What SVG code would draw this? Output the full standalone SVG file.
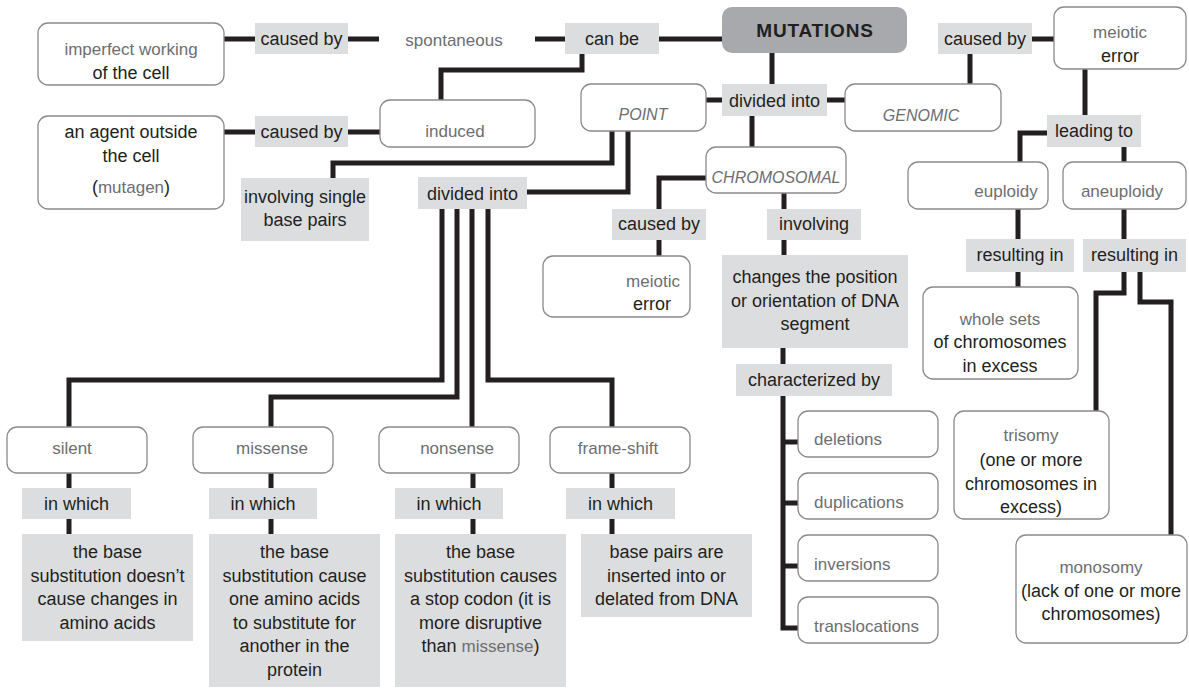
<svg xmlns="http://www.w3.org/2000/svg" width="1189" height="688" viewBox="0 0 1189 688">
<style>
.box{fill:#ffffff;stroke:#8a8a8c;stroke-width:1.3}
.lbl{fill:#dcddde}
.mut{fill:#a7a9ac}
.d{font-family:"Liberation Sans",Arial,sans-serif;font-size:18px;fill:#231f20;text-anchor:middle}
.l{font-family:"Liberation Sans",Arial,sans-serif;font-size:17px;fill:#6d6e71;text-anchor:middle}
.i{font-style:italic;font-size:16px}
.s{text-anchor:start}
.b{font-family:"Liberation Sans",Arial,sans-serif;font-size:19px;font-weight:bold;fill:#231f20;text-anchor:middle;letter-spacing:0.8px}
.g{fill:#6d6e71;font-size:17px}
#connectors path{fill:none;stroke:#231f20;stroke-width:5;stroke-linejoin:miter;stroke-linecap:butt}
</style>
<rect width="1189" height="688" fill="#ffffff"/>
<g id="connectors">
<path d="M224,39H255"/>
<path d="M348,39H379"/>
<path d="M535,39H565"/>
<path d="M659,39H722"/>
<path d="M582,54V70H441V100"/>
<path d="M224,132H255"/>
<path d="M348,132H380"/>
<path d="M772,53V84"/>
<path d="M706,100H722"/>
<path d="M827,100H845"/>
<path d="M752,116V147"/>
<path d="M612,131V163H333V178"/>
<path d="M628,131V192H527"/>
<path d="M442,209V380H69V427"/>
<path d="M457,209V397H271V427"/>
<path d="M472,209V427"/>
<path d="M488,209V380H612V427"/>
<path d="M706,178H659V209"/>
<path d="M659,240V256"/>
<path d="M784,193V209"/>
<path d="M784,240V255"/>
<path d="M783,348V364"/>
<path d="M783,396V628H798"/>
<path d="M783,442H798"/>
<path d="M783,503H798"/>
<path d="M783,566H798"/>
<path d="M1032,39H1054"/>
<path d="M970,54V84"/>
<path d="M1085,69V115"/>
<path d="M1047,133H1020V162"/>
<path d="M1124,147V162"/>
<path d="M1018,209V239"/>
<path d="M1018,272V287"/>
<path d="M1124,209V239"/>
<path d="M1124,272V293H1096V411"/>
<path d="M1140,272V302H1171V535"/>
<path d="M69,473V488"/><path d="M69,519V534"/>
<path d="M271,473V488"/><path d="M271,519V534"/>
<path d="M473,473V488"/><path d="M473,519V534"/>
<path d="M612,473V488"/><path d="M612,519V534"/>
</g>

<g id="n-imperfect"><rect class="box" x="38" y="23" width="186" height="62" rx="10"/>
<text class="l" x="131" y="55">imperfect working</text><text class="d" x="131" y="79">of the cell</text></g>
<g id="n-caused1"><rect class="lbl" x="255" y="23" width="93" height="31"/><text class="d" x="301.5" y="45">caused by</text></g>
<g id="n-spontaneous"><text class="l" x="454" y="46">spontaneous</text></g>
<g id="n-canbe"><rect class="lbl" x="565" y="23" width="94" height="31"/><text class="d" x="612" y="45">can be</text></g>
<g id="n-mutations"><rect class="mut" x="722" y="7" width="185" height="46" rx="10"/><text class="b" x="815" y="37">MUTATIONS</text></g>
<g id="n-caused-right"><rect class="lbl" x="938" y="23" width="94" height="31"/><text class="d" x="985" y="45">caused by</text></g>
<g id="n-meiotic1"><rect class="box" x="1054" y="7" width="132" height="62" rx="10"/>
<text class="l" x="1120" y="38">meiotic</text><text class="d" x="1120" y="62">error</text></g>

<g id="n-agent"><rect class="box" x="38" y="116" width="186" height="93" rx="10"/>
<text class="d" x="131" y="138">an agent outside</text><text class="d" x="131" y="162">the cell</text>
<text class="d" x="131" y="193">(<tspan class="g">mutagen</tspan>)</text></g>
<g id="n-caused2"><rect class="lbl" x="255" y="116" width="93" height="31"/><text class="d" x="301.5" y="138">caused by</text></g>
<g id="n-induced"><rect class="box" x="380" y="100" width="155" height="47" rx="10"/><text class="l" x="455" y="137">induced</text></g>
<g id="n-point"><rect class="box" x="581" y="84" width="125" height="47" rx="10"/><text class="l i" x="643" y="120">POINT</text></g>
<g id="n-divided1"><rect class="lbl" x="722" y="84" width="105" height="32"/><text class="d" x="774.5" y="107">divided into</text></g>
<g id="n-genomic"><rect class="box" x="845" y="84" width="156" height="47" rx="10"/><text class="l i" x="921" y="121">GENOMIC</text></g>
<g id="n-chromosomal"><rect class="box" x="706" y="147" width="140" height="46" rx="10"/><text class="l i" x="776" y="183">CHROMOSOMAL</text></g>
<g id="n-leading"><rect class="lbl" x="1047" y="115" width="94" height="32"/><text class="d" x="1094" y="137">leading to</text></g>
<g id="n-euploidy"><rect class="box" x="908" y="162" width="140" height="47" rx="10"/><text class="l" x="1006" y="197">euploidy</text></g>
<g id="n-aneuploidy"><rect class="box" x="1063" y="162" width="123" height="47" rx="10"/><text class="l" x="1122" y="197">aneuploidy</text></g>
<g id="n-resulting1"><rect class="lbl" x="966" y="239" width="108" height="33"/><text class="d" x="1020" y="261">resulting in</text></g>
<g id="n-resulting2"><rect class="lbl" x="1083" y="239" width="103" height="33"/><text class="d" x="1134.5" y="261">resulting in</text></g>
<g id="n-wholesets"><rect class="box" x="923" y="287" width="155" height="92" rx="10"/>
<text class="l" x="1000" y="325">whole sets</text><text class="d" x="1000" y="348">of chromosomes</text><text class="d" x="1000" y="372">in excess</text></g>
<g id="n-trisomy"><rect class="box" x="954" y="411" width="155" height="108" rx="10"/>
<text class="l" x="1031" y="441">trisomy</text><text class="d" x="1031" y="466">(one or more</text><text class="d" x="1031" y="490">chromosomes in</text><text class="d" x="1031" y="513">excess)</text></g>
<g id="n-monosomy"><rect class="box" x="1016" y="535" width="171" height="108" rx="10"/>
<text class="l" x="1101" y="573">monosomy</text><text class="d" x="1101" y="597">(lack of one or more</text><text class="d" x="1101" y="620">chromosomes)</text></g>

<g id="n-single"><rect class="lbl" x="241" y="178" width="128" height="63"/>
<text class="d" x="305" y="203">involving single</text><text class="d" x="305" y="226">base pairs</text></g>
<g id="n-divided2"><rect class="lbl" x="418" y="177" width="109" height="32"/><text class="d" x="472.5" y="200">divided into</text></g>
<g id="n-caused3"><rect class="lbl" x="612" y="209" width="94" height="31"/><text class="d" x="659" y="230">caused by</text></g>
<g id="n-meiotic2"><rect class="box" x="543" y="256" width="147" height="61" rx="10"/>
<text class="l" x="653" y="287">meiotic</text><text class="d" x="652" y="310">error</text></g>
<g id="n-involving"><rect class="lbl" x="767" y="209" width="94" height="31"/><text class="d" x="814" y="230">involving</text></g>
<g id="n-changes"><rect class="lbl" x="722" y="255" width="186" height="93"/>
<text class="d" x="815" y="283">changes the position</text><text class="d" x="815" y="306.5">or orientation of DNA</text><text class="d" x="815" y="330">segment</text></g>
<g id="n-characterized"><rect class="lbl" x="736" y="364" width="156" height="32"/><text class="d" x="814" y="386">characterized by</text></g>
<g id="n-deletions"><rect class="box" x="798" y="411" width="140" height="46" rx="10"/><text class="l s" x="814" y="445">deletions</text></g>
<g id="n-duplications"><rect class="box" x="798" y="473" width="140" height="46" rx="10"/><text class="l s" x="814" y="508">duplications</text></g>
<g id="n-inversions"><rect class="box" x="798" y="535" width="140" height="46" rx="10"/><text class="l s" x="814" y="570">inversions</text></g>
<g id="n-translocations"><rect class="box" x="798" y="597" width="140" height="46" rx="10"/><text class="l s" x="814" y="632">translocations</text></g>

<g id="n-silent"><rect class="box" x="7" y="427" width="140" height="46" rx="10"/><text class="l" x="72" y="454">silent</text></g>
<g id="n-silent-which"><rect class="lbl" x="22" y="488" width="109" height="31"/><text class="d" x="76.5" y="510">in which</text></g>
<g id="n-silent-desc"><rect class="lbl" x="22" y="534" width="171" height="107"/>
<text class="d" x="107.5" y="558">the base</text><text class="d" x="107.5" y="581.6">substitution doesn’t</text><text class="d" x="107.5" y="605.2">cause changes in</text><text class="d" x="107.5" y="628.8">amino acids</text></g>

<g id="n-missense"><rect class="box" x="193" y="427" width="140" height="46" rx="10"/><text class="l" x="272" y="454">missense</text></g>
<g id="n-missense-which"><rect class="lbl" x="209" y="488" width="108" height="31"/><text class="d" x="263" y="510">in which</text></g>
<g id="n-missense-desc"><rect class="lbl" x="209" y="534" width="171" height="153"/>
<text class="d" x="294.5" y="558">the base</text><text class="d" x="294.5" y="581.6">substitution cause</text><text class="d" x="294.5" y="605.2">one amino acids</text><text class="d" x="294.5" y="628.8">to substitute for</text><text class="d" x="294.5" y="652.4">another in the</text><text class="d" x="294.5" y="676">protein</text></g>

<g id="n-nonsense"><rect class="box" x="379" y="427" width="140" height="46" rx="10"/><text class="l" x="457" y="454">nonsense</text></g>
<g id="n-nonsense-which"><rect class="lbl" x="395" y="488" width="108" height="31"/><text class="d" x="449" y="510">in which</text></g>
<g id="n-nonsense-desc"><rect class="lbl" x="395" y="534" width="171" height="153"/>
<text class="d" x="480.5" y="558">the base</text><text class="d" x="480.5" y="581.6">substitution causes</text><text class="d" x="480.5" y="605.2">a stop codon (it is</text><text class="d" x="480.5" y="628.8">more disruptive</text><text class="d" x="480.5" y="652.4">than <tspan class="g">missense</tspan>)</text></g>

<g id="n-frameshift"><rect class="box" x="550" y="427" width="140" height="46" rx="10"/><text class="l" x="618" y="454">frame-shift</text></g>
<g id="n-frameshift-which"><rect class="lbl" x="566" y="488" width="109" height="31"/><text class="d" x="620.5" y="510">in which</text></g>
<g id="n-frameshift-desc"><rect class="lbl" x="581" y="534" width="171" height="83"/>
<text class="d" x="666.5" y="558">base pairs are</text><text class="d" x="666.5" y="581.6">inserted into or</text><text class="d" x="666.5" y="605.2">delated from DNA</text></g>
</svg>
